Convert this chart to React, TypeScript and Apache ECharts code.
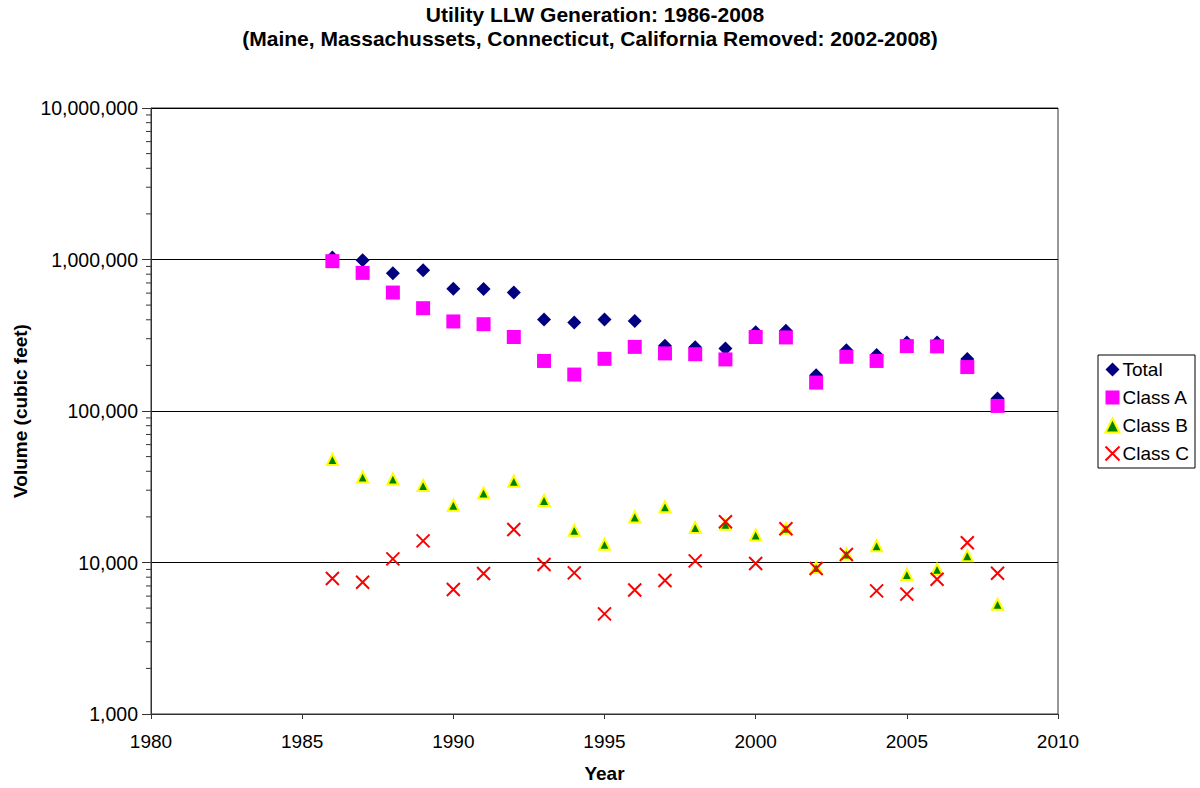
import React, { useEffect, useRef } from "react";
import * as echarts from "echarts";

const years = [1986, 1987, 1988, 1989, 1990, 1991, 1992, 1993, 1994, 1995, 1996, 1997, 1998, 1999, 2000, 2001, 2002, 2003, 2004, 2005, 2006, 2007, 2008];
const total = [1030000, 990000, 812000, 850000, 640000, 638000, 605000, 402000, 384000, 402000, 392000, 270000, 264000, 259000, 331000, 338000, 172000, 252000, 234000, 283000, 283000, 220000, 121000];
const classA = [975000, 816000, 605000, 477000, 390000, 374000, 308000, 214000, 174000, 221000, 265000, 240000, 237000, 219000, 308000, 306000, 154000, 228000, 214000, 268000, 267000, 195000, 108000];
const classB = [47900, 36700, 35600, 32200, 23900, 28800, 34400, 25700, 16300, 13200, 20000, 23300, 17000, 17900, 15200, 16800, 9270, 11400, 12900, 8330, 9030, 11100, 5300];
const classC = [7840, 7410, 10560, 13900, 6640, 8460, 16500, 9700, 8540, 4580, 6590, 7610, 10250, 18600, 9850, 16700, 9130, 11300, 6500, 6180, 7760, 13500, 8500];
const minorTickValues = [2000, 3000, 4000, 5000, 6000, 7000, 8000, 9000, 20000, 30000, 40000, 50000, 60000, 70000, 80000, 90000, 200000, 300000, 400000, 500000, 600000, 700000, 800000, 900000, 2000000, 3000000, 4000000, 5000000, 6000000, 7000000, 8000000, 9000000];
const titleLines = ["Utility LLW Generation: 1986-2008", "(Maine, Massachussets, Connecticut, California Removed: 2002-2008)"];

const FONT = "'Liberation Sans', Arial, sans-serif";

function fmt(v: number): string {
  return String(Math.round(v)).replace(/\B(?=(\d{3})+(?!\d))/g, ",");
}

function pairs(vals: number[]) {
  return years.map((y, i) => [y, vals[i]]);
}

export default function App() {
  const ref = useRef<HTMLDivElement>(null);
  useEffect(() => {
    if (!ref.current) return;
    const chart = echarts.init(ref.current, undefined, { renderer: "svg" });
    chart.setOption({
      animation: false,
      backgroundColor: "#ffffff",
      textStyle: { fontFamily: FONT },
      graphic: [
        {
          type: "text",
          x: 595,
          y: 14,
          style: { text: titleLines[0], font: `bold 21px ${FONT}`, fill: "#000", textAlign: "center", textVerticalAlign: "middle" },
        },
        {
          type: "text",
          x: 590,
          y: 38,
          style: { text: titleLines[1], font: `bold 21px ${FONT}`, fill: "#000", textAlign: "center", textVerticalAlign: "middle" },
        },
      ],
      grid: {
        left: 151,
        top: 108,
        width: 907,
        height: 606,
        show: true,
        borderColor: "#333",
        borderWidth: 1,
        backgroundColor: "#fff",
        containLabel: false,
      },
      legend: {
        orient: "vertical",
        left: 1098,
        top: 355,
        data: ["Total", "Class A", "Class B", "Class C"],
        borderColor: "#000",
        borderWidth: 1,
        padding: [5, 6, 5, 5],
        itemGap: 9,
        itemWidth: 14,
        itemHeight: 14,
        textStyle: { fontSize: 19, color: "#000", fontFamily: FONT, padding: [0, 0, 0, -2] },
      },
      xAxis: {
        type: "value",
        min: 1980,
        max: 2010,
        interval: 5,
        name: "Year",
        nameLocation: "middle",
        nameGap: 50,
        nameTextStyle: { fontSize: 19, fontWeight: "bold", color: "#000", fontFamily: FONT },
        axisLine: { show: true, lineStyle: { color: "#333", width: 1 } },
        axisTick: { show: true, inside: false, length: 5, lineStyle: { color: "#333" } },
        axisLabel: { fontSize: 19, color: "#000", margin: 18, fontFamily: FONT, formatter: (v: number) => String(v) },
        splitLine: { show: false },
      },
      yAxis: {
        type: "log",
        logBase: 10,
        min: 1000,
        max: 10000000,
        name: "Volume (cubic feet)",
        nameLocation: "middle",
        nameGap: 119,
        nameTextStyle: { fontSize: 19, fontWeight: "bold", color: "#000", fontFamily: FONT },
        axisLine: { show: true, lineStyle: { color: "#333", width: 1 } },
        axisTick: { show: true, inside: false, length: 9, lineStyle: { color: "#333" } },
        axisLabel: { fontSize: 19.5, color: "#000", margin: 13, fontFamily: FONT, formatter: (v: number) => fmt(v) },
        splitLine: { show: true, lineStyle: { color: "#000", width: 1 } },
      },
      series: [
        {
          type: "custom",
          name: "minorTicks",
          silent: true,
          clip: false,
          data: minorTickValues.map((v) => [1980, v]),
          renderItem: (params: any, api: any) => {
            const p = api.coord([api.value(0), api.value(1)]);
            return {
              type: "line",
              shape: { x1: p[0] - 5, y1: p[1], x2: p[0], y2: p[1] },
              style: { stroke: "#333", lineWidth: 1 },
            };
          },
        },
        {
          type: "scatter",
          name: "Total",
          data: pairs(total),
          symbol: "diamond",
          symbolSize: 14,
          itemStyle: { color: "#000080", opacity: 1 },
        },
        {
          type: "scatter",
          name: "Class A",
          data: pairs(classA),
          symbol: "rect",
          symbolSize: 14,
          itemStyle: { color: "#FF00FF", opacity: 1 },
        },
        {
          type: "scatter",
          name: "Class B",
          data: pairs(classB),
          symbol: "triangle",
          symbolSize: 11,
          itemStyle: { color: "#008000", borderColor: "#FFFF00", borderWidth: 2, opacity: 1 },
        },
        {
          type: "scatter",
          name: "Class C",
          data: pairs(classC),
          symbol: "path://M0 0L10 10M10 0L0 10",
          symbolSize: 13,
          itemStyle: { color: "none", borderColor: "#FF0000", borderWidth: 2, opacity: 1 },
        },
      ],
    });
    return () => chart.dispose();
  }, []);
  return <div ref={ref} style={{ position: "absolute", left: 0, top: 0, width: 1200, height: 788 }} />;
}
